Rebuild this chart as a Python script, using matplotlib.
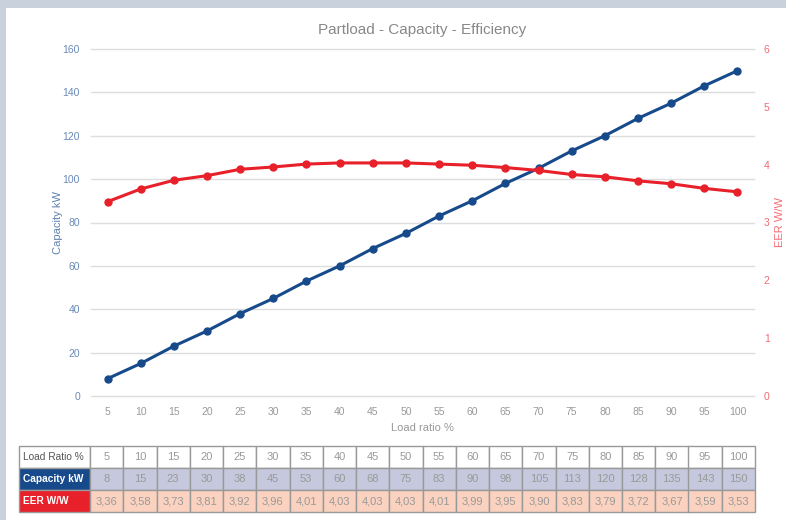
import numpy as np
import matplotlib.pyplot as plt
from matplotlib.patches import Rectangle

load_ratio = [5, 10, 15, 20, 25, 30, 35, 40, 45, 50, 55, 60, 65, 70, 75, 80, 85, 90, 95, 100]
capacity = [8, 15, 23, 30, 38, 45, 53, 60, 68, 75, 83, 90, 98, 105, 113, 120, 128, 135, 143, 150]
eer = [3.36, 3.58, 3.73, 3.81, 3.92, 3.96, 4.01, 4.03, 4.03, 4.03, 4.01, 3.99, 3.95, 3.90, 3.83, 3.79, 3.72, 3.67, 3.59, 3.53]

blue = '#174a8b'
red = '#e8202a'
W, H = 786, 520

plt.rcParams['font.family'] = ['Liberation Sans', 'DejaVu Sans']

fig = plt.figure(figsize=(W / 100, H / 100), dpi=100)
fig.patch.set_facecolor('#c9d2dc')
fig.patches.append(Rectangle((6 / W, 0), 1, 1 - 8 / H, transform=fig.transFigure,
                             facecolor='white', edgecolor='none', zorder=-1))

def px_axes(x0, y0, x1, y1):
    return fig.add_axes([x0 / W, 1 - y1 / H, (x1 - x0) / W, (y1 - y0) / H])

# main chart
ax = px_axes(91, 49, 754, 396)
ax2 = ax.twinx()
x = np.arange(len(load_ratio))

ax.plot(x, capacity, color=blue, lw=2.2, marker='o', ms=5, zorder=3)
ax2.plot(x, eer, color=red, lw=2.2, marker='o', ms=5, zorder=3)

ax.set_xlim(-0.5, len(x) - 0.5)
ax.set_ylim(0, 160)
ax.set_yticks(range(0, 161, 20))
ax2.set_ylim(0, 6)
ax2.set_yticks(range(0, 7))
ax.set_xticks(x)
ax.set_xticklabels([str(v) for v in load_ratio])

ax.grid(axis='y', color='#dddddd', lw=1)
for gl in ax.get_ygridlines():
    gl.set_clip_on(False)
ax.set_axisbelow(True)
for a in (ax, ax2):
    for s in a.spines.values():
        s.set_visible(False)
ax.tick_params(axis='both', length=0)
ax2.tick_params(axis='y', length=0, pad=7, labelcolor='#f26b73', labelsize=7.5)
ax.tick_params(axis='y', pad=8, labelcolor='#6a8ab8', labelsize=7.5)
ax.tick_params(axis='x', pad=8, labelcolor='#999999', labelsize=7.5)

ax.set_ylabel('Capacity kW', color='#5f80b0', fontsize=8)
ax.yaxis.set_label_coords((63 - 91) / 663, 0.5)
ax2.set_ylabel('EER W/W', color='#f26b73', fontsize=8)
ax2.yaxis.set_label_coords((775 - 91) / 663, 0.5)
ax.set_xlabel('Load ratio %', color='#999999', fontsize=8, labelpad=4)
ax.set_title('Partload - Capacity - Efficiency', color='#888888', fontsize=11, pad=11)

# table under the chart
tax = px_axes(19, 446, 755, 512)
tax.axis('off')
rows = [['Load Ratio %'] + [str(v) for v in load_ratio],
        ['Capacity kW'] + [str(v) for v in capacity],
        ['EER W/W'] + [f'{v:.2f}'.replace('.', ',') for v in eer]]
first = 71 / 736
widths = [first] + [(1 - first) / len(load_ratio)] * len(load_ratio)
tbl = tax.table(cellText=rows, bbox=[0, 0, 1, 1], colWidths=widths, cellLoc='center')
tbl.auto_set_font_size(False)
row_bg = ['white', '#c6c9dd', '#fad2bf']
label_bg = ['white', blue, red]
for (r, c), cell in tbl.get_celld().items():
    cell.set_edgecolor('#999999')
    cell.set_linewidth(1)
    if c == 0:
        cell.set_fontsize(7.3)
        cell.set_facecolor(label_bg[r])
        cell.get_text().set_ha('left')
        cell.PAD = 0.06
        if r == 0:
            cell.get_text().set_color('#555555')
        else:
            cell.get_text().set_color('white')
            cell.get_text().set_fontweight('bold')
    else:
        cell.set_fontsize(8)
        cell.set_facecolor(row_bg[r])
        cell.get_text().set_color('#999999')

fig.savefig('out.png', dpi=100, facecolor=fig.get_facecolor())
